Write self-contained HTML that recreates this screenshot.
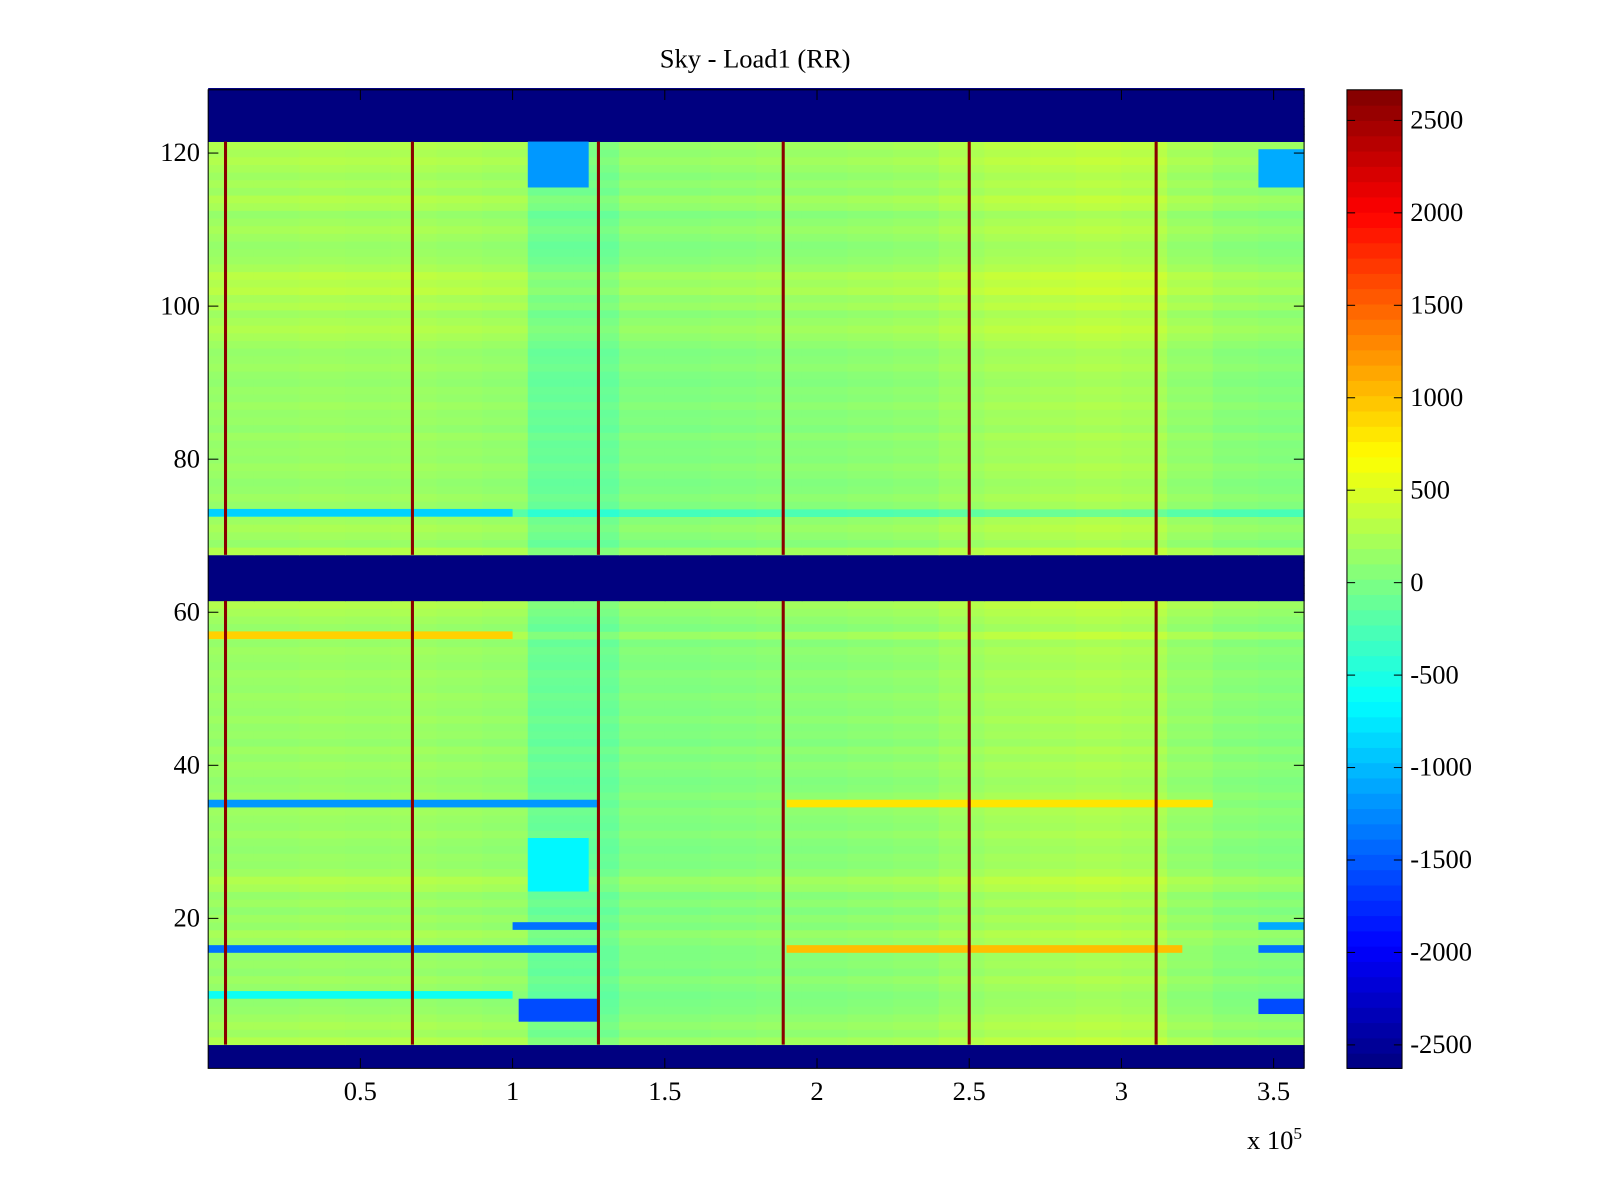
<!DOCTYPE html>
<html><head><meta charset="utf-8">
<style>
html,body{margin:0;padding:0;background:#fff;overflow:hidden;}
svg{display:block;}
svg text{font-family:"Liberation Serif",serif;font-size:26px;fill:#000;}
</style></head>
<body>
<svg id="chart" width="1600" height="1200" viewBox="0 0 1568 1176" xmlns="http://www.w3.org/2000/svg">
<rect width="1568" height="1176" fill="#fff"/>
<text x="740" y="66" text-anchor="middle">Sky - Load1 (RR)</text>
<g id="cells"></g>
<g id="axes"></g>
<g id="cbar"></g>
</svg>
<script>
// ---- data ----
const xBinEdgesK = [0,15,30,45,60,75,90,105,120,135,150,165,180,195,210,225,240,255,270,285,300,315,330,345,360]; // x in 1e3 units
const colOffset  = [60,60,80,70,80,60,40,-180,-180,-60,-60,-40,-20,-20,0,20,80,120,140,160,140,40,-20,-40];
// row base value for rows 1..128
const rowBase = [
-2650,-2650,-2650,200,100,150,100,50,30,10, //1-10
50,100,30,70,50,50,100,150,50,100, //11-20
30,100,50,150,200,100,50,70,30,50, //21-30
100,50,70,100,50,100,50,30,70,100, //31-40
50,100,30,70,50,100,50,70,100,50, //41-50
70,100,50,70,100,50,200,50,100,150, //51-60
200,-2650,-2650,-2650,-2650,-2650,-2650,200,50,100, //61-70
150,100,-250,50,100,50,30,70,100,50, //71-80
70,50,100,30,70,50,100,50,70,30, //81-90
50,100,70,50,100,150,200,150,100,200, //91-100
150,250,200,250,150,100,70,50,100,150, //101-110
100,50,150,200,100,150,100,150,200,150, //111-120
200,-2650,-2650,-2650,-2650,-2650,-2650,-2650 //121-128
];
// anomalies: [rowStart,rowEnd,xStartK,xEndK,value]
const anomalies = [
[116,121,105,125,-1200],[116,120,345,360,-1100],
[7,9,102,128,-1600],[8,9,345,360,-1600],[24,30,105,125,-700],
[73,73,0,100,-900],[35,35,0,128,-1200],[35,35,190,330,800],
[16,16,0,128,-1400],[16,16,190,320,1000],[16,16,345,360,-1400],
[19,19,100,128,-1400],[19,19,345,360,-1100],[57,57,0,100,900],[10,10,0,100,-600]
];
const spikesK = [5.7,67.1,128.2,188.9,250,311.4];
const spikeValue = 2600;
const xTicks = [0.5,1,1.5,2,2.5,3,3.5];
const yTicks = [20,40,60,80,100,120];
const cTicks = [-2500,-2000,-1500,-1000,-500,0,500,1000,1500,2000,2500];
// ---- scales ----
const X0=204,X1=1278,Y0=88,Y1=1047;
const xs = k => X0 + (k/360)*(X1-X0);
const ys = r => 150 + (120-r)*7.5;
const vmin=-2650,vmax=2650;
function jet(v){
  let t=Math.max(0,Math.min(1,(v-vmin)/(vmax-vmin)));
  const f=x=>Math.round(255*Math.max(0,Math.min(1,1.5-Math.abs(x))));
  return `rgb(${f(4*t-3)},${f(4*t-2)},${f(4*t-1)})`;
}
const NS="http://www.w3.org/2000/svg";
function mk(tag,attrs,parent){const e=document.createElementNS(NS,tag);for(const k in attrs)e.setAttribute(k,attrs[k]);parent.appendChild(e);return e;}
const cells=document.getElementById('cells');
const blue=r=>rowBase[r-1]<=-2600;
for(let r=1;r<=128;r++){
  const y=ys(r)-3.75;
  for(let b=0;b<colOffset.length;b++){
    const v=blue(r)?rowBase[r-1]:rowBase[r-1]+colOffset[b];
    const x=xs(xBinEdgesK[b]),w=xs(xBinEdgesK[b+1])-x;
    const el=mk('rect',{x:x,y:y,width:w+0.6,height:7.9,fill:jet(v)},cells);
    
    
  }
}
anomalies.forEach(a=>{
  const y=ys(a[1])-3.75,h=(a[1]-a[0]+1)*7.5;
  const el=mk('rect',{x:xs(a[2]),y:y,width:xs(a[3])-xs(a[2]),height:h,fill:jet(a[4])},cells);
  
  
});
spikesK.forEach(k=>{
  [[4,61],[68,121]].forEach(seg=>{
    const el=mk('rect',{x:xs(k)-1.5,y:ys(seg[1])-3.75,width:3,height:(seg[1]-seg[0]+1)*7.5,fill:jet(spikeValue)},cells);
    
    
  });
});
// axes
const ax=document.getElementById('axes');
mk('rect',{x:X0,y:Y0,width:X1-X0,height:Y1-Y0,fill:'none',stroke:'#000','stroke-width':1},ax);
xTicks.forEach(t=>{
  const x=xs(t*100);
  mk('line',{x1:x,y1:Y1,x2:x,y2:Y1-10,stroke:'#000'},ax);
  mk('line',{x1:x,y1:Y0,x2:x,y2:Y0+10,stroke:'#000'},ax);
  const tx=mk('text',{x:x,y:Y1+31,'text-anchor':'middle'},ax);tx.textContent=t;
  
  
});
yTicks.forEach(t=>{
  const y=ys(t);
  mk('line',{x1:X0,y1:y,x2:X0+10,y2:y,stroke:'#000'},ax);
  mk('line',{x1:X1,y1:y,x2:X1-10,y2:y,stroke:'#000'},ax);
  const tx=mk('text',{x:X0-8,y:y+8,'text-anchor':'end'},ax);tx.textContent=t;
  
  
});
const ex=mk('text',{x:1222,y:1126},ax);ex.innerHTML='x 10<tspan dy="-10" font-size="17">5</tspan>';


// colorbar
const cb=document.getElementById('cbar');
const CX=1320,CW=54,N=64;
for(let i=0;i<N;i++){
  const v=vmin+(i+0.5)*(vmax-vmin)/N;
  const y=Y1-(i+1)*(Y1-Y0)/N;
  const el=mk('rect',{x:CX,y:y,width:CW,height:(Y1-Y0)/N+0.6,fill:jet(v)},cb);
  
  
}
mk('rect',{x:CX,y:Y0,width:CW,height:Y1-Y0,fill:'none',stroke:'#000'},cb);
cTicks.forEach(t=>{
  const y=571-t*453/2500;
  mk('line',{x1:CX,y1:y,x2:CX+8,y2:y,stroke:'#000'},cb);
  mk('line',{x1:CX+CW,y1:y,x2:CX+CW-8,y2:y,stroke:'#000'},cb);
  const tx=mk('text',{x:CX+CW+8,y:y+8},cb);tx.textContent=t;
  
  
});
</script>
</body></html>
